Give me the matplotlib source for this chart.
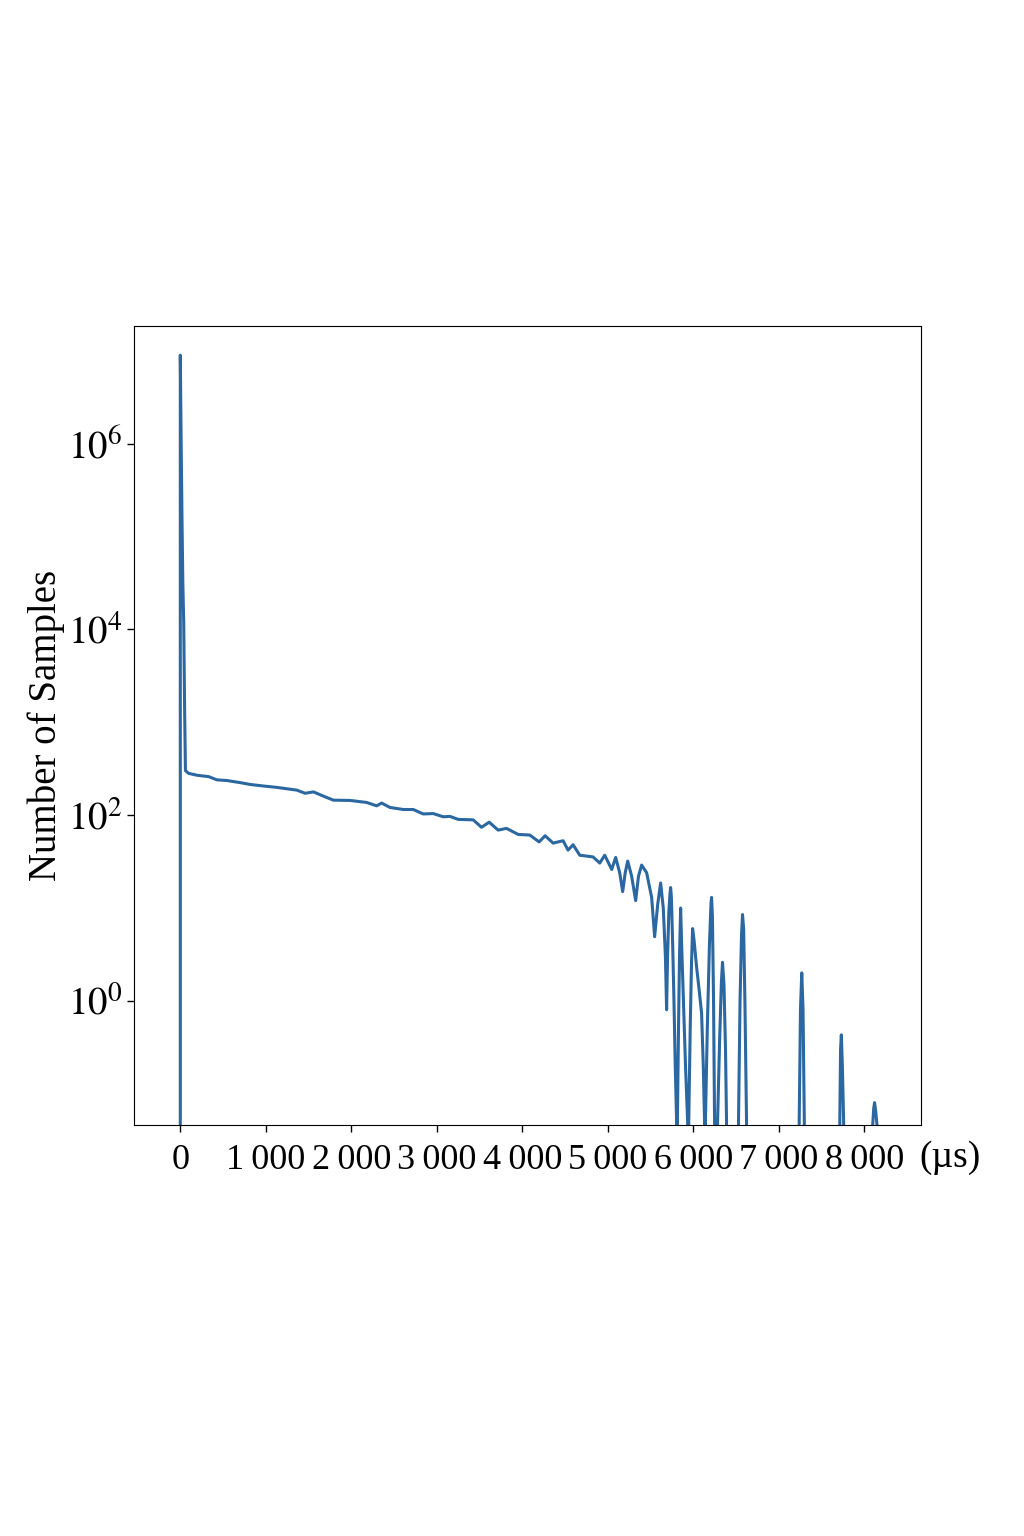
import matplotlib
matplotlib.use('Agg')
import matplotlib.pyplot as plt
import matplotlib.transforms as mtransforms

### Data
# latency bins (us) and sample counts
latency = [-10, 0, 10, 20, 30, 40, 50, 60, 97, 195, 331, 429, 545, 701, 818,
           973, 1129, 1285, 1363, 1460, 1558, 1655, 1791, 1986, 2180, 2297,
           2355, 2453, 2609, 2725, 2842, 2959, 3076, 3154, 3251, 3426, 3524,
           3613, 3718, 3816, 3952, 4089, 4197, 4268, 4361, 4478, 4536, 4595,
           4673, 4828, 4907, 4965, 5047, 5093, 5140, 5175, 5205, 5234, 5280,
           5327, 5360, 5397, 5455, 5514, 5549, 5585, 5619, 5650, 5675, 5689,
           5700, 5715, 5728, 5736, 5745, 5760, 5775, 5790, 5806, 5810,
           5812, 5815, 5828, 5840, 5853, 5865, 5888, 5910, 5935, 5938,
           5945, 5948, 5965, 5980, 5993, 6010, 6040, 6070, 6098, 6118, 6133, 6136,
           6140, 6143, 6165, 6190, 6208, 6215, 6225, 6238, 6250, 6253,
           6282, 6285, 6310, 6330, 6343, 6360, 6378, 6390, 6393,
           6527, 6530, 6548, 6565, 6577, 6590, 6605, 6624, 6627,
           7237, 7240, 7255, 7270, 7285, 7300, 7303,
           7712, 7715, 7724, 7733, 7745, 7760, 7763,
           8097, 8100, 8112, 8122, 8135, 8150, 8153]
counts = [0, 9.0e6, 1.0e6, 1.5e5, 3.0e4, 1.2e4, 1.5e3, 302, 282, 269, 260,
          240, 236, 224, 214, 206, 199, 190, 186, 172, 178, 163, 145, 144,
          137, 126, 135, 121, 115, 115, 103, 104, 96, 97, 90, 89, 74,
          84, 69, 72, 62, 61, 51.5, 60, 50, 53, 42, 48,
          37, 35.5, 30.5, 37, 26, 35, 24, 15, 24, 32, 22,
          12, 22, 29, 24, 13, 4.9, 11, 18.6, 10, 3, 0.8,
          3, 9, 14, 16.6, 13, 4, 1, 0.2, 0.05, 0,
          0, 0.05, 0.5, 3, 10, 4, 0.85, 0.2, 0.05, 0,
          0, 0.05, 0.5, 2.5, 6, 4.5, 2.3, 1.3, 0.74, 0.2, 0.05, 0,
          0, 0.05, 0.5, 4, 11, 13, 8, 1, 0.05, 0,
          0, 0.05, 0.4, 1.6, 2.6, 1.5, 0.3, 0.05, 0,
          0, 0.05, 1, 5, 8.5, 6, 1, 0.05, 0,
          0, 0.05, 0.8, 2.0, 0.8, 0.05, 0,
          0, 0.05, 0.3, 0.43, 0.2, 0.05, 0,
          0, 0.046, 0.07, 0.08, 0.065, 0.046, 0]

xticks = [0, 1000, 2000, 3000, 4000, 5000, 6000, 7000, 8000]
xticklabels = ['0', '1\u2009000', '2\u2009000', '3\u2009000', '4\u2009000',
               '5\u2009000', '6\u2009000', '7\u2009000', '8\u2009000']
yticks = [1e0, 1e2, 1e4, 1e6]
yticklabels = ['$10^{0}$', '$10^{2}$', '$10^{4}$', '$10^{6}$']

### Style
plt.rcParams['font.family'] = ['Liberation Serif', 'DejaVu Serif']
plt.rcParams['mathtext.fontset'] = 'stix'

### Graph
fig = plt.figure(figsize=(10.24, 15.36), dpi=100)
ax = fig.add_axes([0.131, 0.2676, 0.768, 0.5202])

ax.plot(latency, counts, color='#2b67a0', linewidth=2.2, solid_joinstyle='round')
ax.set_yscale('log', nonpositive='clip')
ax.set_xlim(-540, 8660)
ax.set_ylim(0.046, 1.86e7)

ax.set_xticks(xticks)
ax.set_xticklabels(xticklabels)
ax.set_yticks(yticks)
ax.set_yticklabels(yticklabels)
ax.minorticks_off()
ax.tick_params(labelsize=28, length=5, width=1)
ax.tick_params(axis='x', labelsize=26, pad=9)
ax.set_ylabel('Number of Samples', fontsize=28, labelpad=2)

# unit label sits where a 9000 tick would be
trans = mtransforms.blended_transform_factory(ax.transData, ax.transAxes)
ax.annotate('(\u00b5s)', xy=(9000, 0), xycoords=trans, xytext=(0, -11),
            textcoords='offset points', ha='center', va='top',
            fontsize=27, annotation_clip=False)

fig.savefig('out.png', dpi=100)
